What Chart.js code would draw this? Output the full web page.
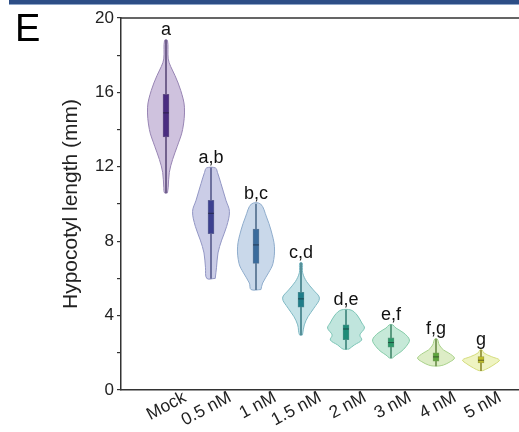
<!DOCTYPE html>
<html>
<head>
<meta charset="utf-8">
<script src="https://cdn.jsdelivr.net/npm/chart.js@4.4.0/dist/chart.umd.min.js"></script>
<style>
  html, body { margin: 0; padding: 0; background: #fff; overflow: hidden; }
  #wrap { position: relative; width: 519px; height: 432px; overflow: hidden; }
  #band { position: absolute; left: 9px; top: 0; width: 520px; height: 4px; background: #2d4e86; border-bottom: 1px solid #8fa6c8; }
  canvas { position: absolute; left: 0; top: 0; }
</style>
</head>
<body>
<div id="wrap">
  <div id="band"></div>
  <canvas id="c" width="540" height="432"></canvas>
</div>
<script>
// ---- data ----
const categories = ['Mock', '0.5 nM', '1 nM', '1.5 nM', '2 nM', '3 nM', '4 nM', '5 nM'];
const letters = ['a', 'a,b', 'b,c', 'c,d', 'd,e', 'e,f', 'f,g', 'g'];
const q1s     = [13.6, 8.4, 6.8, 4.45, 2.7, 2.3, 1.55, 1.45];
const medians = [14.9, 9.5, 7.8, 4.9, 3.28, 2.55, 1.78, 1.6];
const q3s     = [15.9, 10.2, 8.65, 5.25, 3.5, 2.8, 2.0, 1.8];
const mins    = [10.6, 6.0, 5.4, 2.96, 2.2, 1.72, 1.29, 1.04];
const maxs    = [18.8, 11.94, 10.0, 6.83, 4.3, 3.5, 2.74, 2.15];
// violin density profiles: [value, relative density]
const shapeMock = [[10.6,0.08],[10.9,0.12],[11.7,0.18],[12.4,0.36],[13.1,0.61],[14,0.9],[15.2,1.0],[16.1,0.8],[16.9,0.49],[17.4,0.25],[17.8,0.12],[18.8,0.08]];
const shape05 = [[6.0,0.23],[6.6,0.3],[7.37,0.38],[8.06,0.58],[8.8,0.85],[9.6,1.0],[10.2,0.81],[11.1,0.54],[11.7,0.35],[11.94,0.24]];
const shape1  = [[5.4,0.27],[5.75,0.36],[6.3,0.68],[6.8,0.92],[7.7,1.0],[8.6,0.81],[9.3,0.57],[10.0,0.25]];
const shape15 = [[2.96,0.08],[3.5,0.18],[3.94,0.38],[4.4,0.7],[4.94,1.0],[5.38,0.67],[5.82,0.31],[6.3,0.09],[6.83,0.07]];
const shape2  = [[2.2,0.16],[2.42,0.45],[2.69,0.85],[2.96,0.75],[3.33,1.0],[3.6,0.86],[4.03,0.6],[4.3,0.27]];
const shape3  = [[1.72,0.08],[1.88,0.27],[2.06,0.54],[2.33,0.81],[2.69,1.0],[3.06,0.7],[3.33,0.27],[3.5,0.1]];
const shape4  = [[1.29,0.15],[1.34,0.4],[1.52,0.77],[1.72,1.0],[1.99,0.69],[2.15,0.41],[2.42,0.18],[2.74,0.07]];
const shape5  = [[1.04,0.1],[1.18,0.4],[1.4,0.76],[1.61,1.0],[1.79,0.58],[1.99,0.16],[2.15,0.06]];
const shapes = [shapeMock, shape05, shape1, shape15, shape2, shape3, shape4, shape5];
const yTicks = [0, 4, 8, 12, 16, 20];

// ---- styles ----
const fills    = ['#cfc2de','#cbcde7','#c9d8ea','#c4e2e7','#c0e5dd','#c6e9d8','#ddedc6','#eff4c2'];
const edges    = ['#9784b3','#9296c4','#8eaccc','#80b9c4','#7cc5b6','#86cca9','#a8d189','#d4dc7c'];
const boxCols  = ['#4a2c80','#3c4090','#3a6b9c','#1f7d89','#1f8b78','#2b9a69','#5da53e','#bdbe28'];
const whiskCols= ['#6b5a88','#666a98','#5f7a98','#4f8a92','#4c9086','#55957a','#7a9a5a','#9a9a40'];
const HALF = 0.41; // max half-width in category units
const FONT = 'Liberation Sans, Arial, Helvetica, sans-serif';

function violinPoints(i) {
  const c = i + 1, s = shapes[i];
  const right = s.map(([v, d]) => ({ x: c + d * HALF, y: v }));
  const left = s.slice().reverse().map(([v, d]) => ({ x: c - d * HALF, y: v }));
  const pts = right.concat(left);
  pts.push(pts[0]);
  return pts;
}

const datasets = [];
shapes.forEach((s, i) => {
  datasets.push({
    type: 'line', data: violinPoints(i), fill: 'shape',
    backgroundColor: fills[i], borderColor: edges[i], borderWidth: 1,
    pointRadius: 0, tension: 0.35, order: 10
  });
});
datasets.push({
  type: 'bar', grouped: false, order: 5,
  data: categories.map((c, i) => ({ x: i + 1, y: [mins[i], maxs[i]] })),
  backgroundColor: whiskCols, barThickness: 1.2, borderWidth: 0
});
datasets.push({
  type: 'bar', grouped: false, order: 3,
  data: categories.map((c, i) => ({ x: i + 1, y: [q1s[i], q3s[i]] })),
  backgroundColor: boxCols, borderColor: whiskCols, borderWidth: 0.8, borderSkipped: false, barThickness: 6
});
datasets.push({
  type: 'scatter', order: 1,
  data: categories.map((c, i) => ({ x: i + 1, y: medians[i] })),
  pointStyle: 'line', pointRadius: 3, pointBorderWidth: 1, pointBorderColor: 'rgba(20,20,30,0.55)', showLine: false
});

const decor = {
  id: 'decor',
  afterDatasetsDraw(chart) {
    const { ctx, scales: { x, y }, chartArea } = chart;
    ctx.save();
    ctx.fillStyle = '#111';
    ctx.font = '18px ' + FONT;
    ctx.textAlign = 'center';
    ctx.textBaseline = 'alphabetic';
    letters.forEach((t, i) => {
      ctx.fillText(t, x.getPixelForValue(i + 1), y.getPixelForValue(maxs[i]) - 5);
    });
    // top frame line
    ctx.strokeStyle = '#333';
    ctx.lineWidth = 1.5;
    ctx.beginPath();
    ctx.moveTo(chartArea.left, chartArea.top);
    ctx.lineTo(chartArea.right, chartArea.top);
    ctx.lineTo(chartArea.right, chartArea.bottom);
    ctx.stroke();
    // panel letter
    ctx.font = '38px ' + FONT;
    ctx.textAlign = 'left';
    ctx.fillStyle = '#000';
    ctx.fillText('E', 15, 41);
    ctx.restore();
  }
};

new Chart(document.getElementById('c'), {
  type: 'line',
  data: { datasets },
  options: {
    responsive: false, animation: false, devicePixelRatio: 1,
    layout: { padding: { left: 55, top: 18, right: 14, bottom: 0 } },
    plugins: { legend: { display: false }, tooltip: { enabled: false } },
    scales: {
      x: {
        type: 'linear', min: 0, max: 9, offset: false,
        grid: { display: false, drawTicks: false },
        border: { display: true, color: '#333', width: 1.5 },
        ticks: {
          stepSize: 1, autoSkip: false, minRotation: 28, maxRotation: 28, padding: -3, labelOffset: 19,
          color: '#222', font: { family: FONT, size: 17.5 },
          callback: (v) => categories[v - 1] || ''
        },
        afterFit: (s) => { s.height = 42; }
      },
      y: {
        type: 'linear', min: 0, max: 20,
        grid: { display: true, drawOnChartArea: false, drawTicks: true, tickLength: 4, color: '#333', lineWidth: 1.2 },
        border: { display: true, color: '#333', width: 1.5 },
        ticks: {
          stepSize: 2, padding: 3, color: '#222', font: { family: FONT, size: 17 },
          callback: (v) => yTicks.includes(v) ? String(v) : ''
        },
        title: { display: true, text: 'Hypocotyl length (mm)', color: '#222', font: { family: FONT, size: 21 }, padding: { top: 4, bottom: 4 } },
        afterFit: (s) => { s.width = 66; }
      }
    }
  },
  plugins: [decor]
});
</script>
</body>
</html>
